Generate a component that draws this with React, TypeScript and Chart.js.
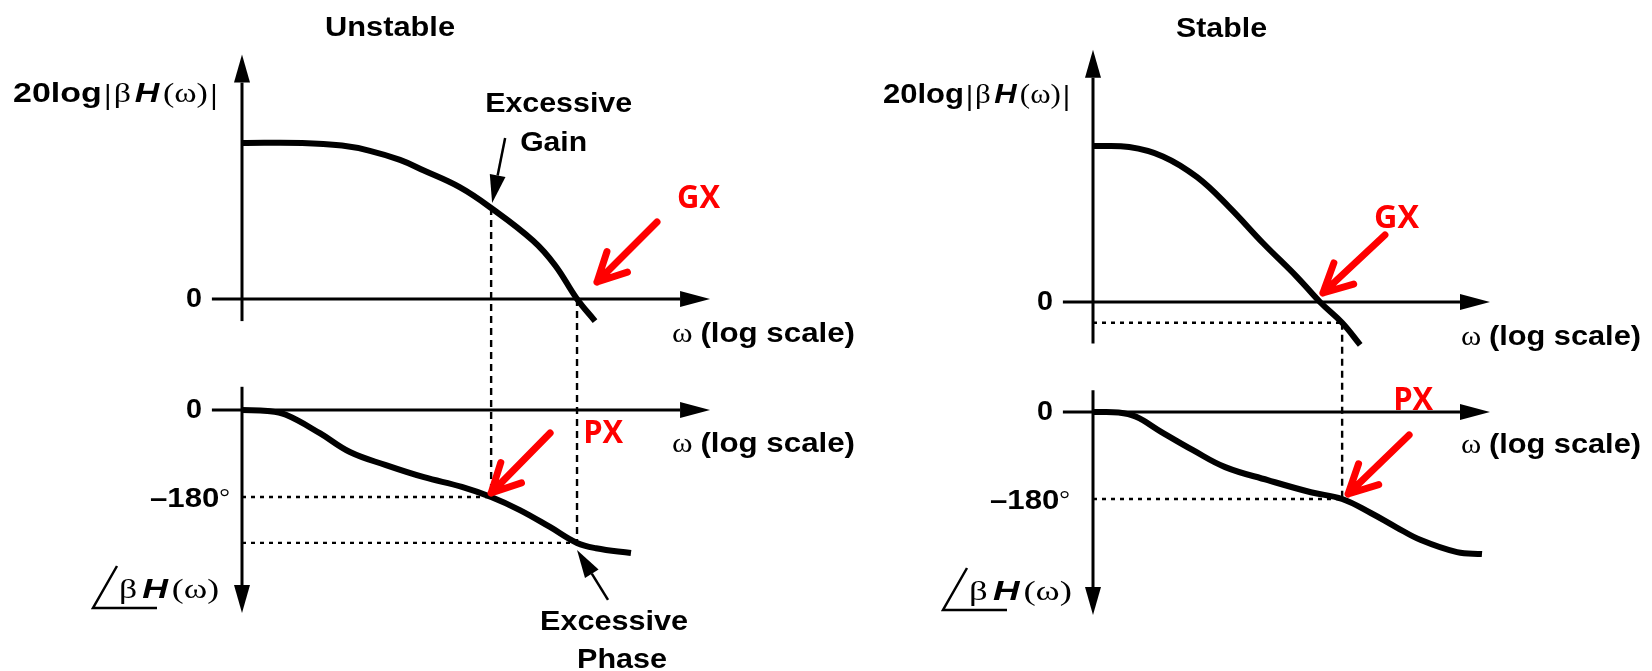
import React, { useEffect, useRef } from 'react';
import { Chart, registerables } from 'chart.js';

Chart.register(...registerables);

// ---------------- DATA (ω on a log axis, magnitude in dB, phase in degrees) ----------------
const unstableMagOmega = [1, 4, 10, 19, 38, 65, 150, 310, 810, 1350, 2240, 3390];
const unstableMagDb = [60, 60, 59, 57, 53.5, 49.5, 43, 35, 22.5, 13, 0, -8.5];
const unstablePhaseOmega = [1, 1.8, 2.75, 6, 12, 27.5, 66, 158, 310, 600, 1200, 2240, 3470, 7760];
const unstablePhaseDeg = [0, -2, -10, -48, -87, -114, -139, -159, -180, -207, -242, -275, -286, -296];

const stableMagOmega = [1, 2.3, 5, 11, 23, 50, 110, 186, 310, 470];
const stableMagDb = [60, 59.6, 56, 48, 36.5, 22.7, 9.6, 0, -8, -16.5];
const stablePhaseOmega = [1, 1.8, 2.7, 4.8, 10, 21, 56, 151, 310, 600, 1070, 1900, 4370, 7760];
const stablePhaseDeg = [0, -1, -10, -41, -79, -114, -141, -166, -180, -209, -238, -265, -290, -294];

// crossover points
const unstableGX = 2240; // gain crossover ω
const unstablePX = 310; // phase crossover ω
const unstableGainAtPX = 35; // dB ("Excessive Gain")
const unstablePhaseAtGX = -275; // deg ("Excessive Phase")
const stableGX = 186;
const stablePX = 310;
const stableGainAtPX = -8;
const phaseTick = -180;

// text
const titles = ['Unstable', 'Stable'];
const gxText = 'GX';
const pxText = 'PX';

// ---------------- STYLE / LAYOUT ----------------
const W = 1652;
const H = 671;
const SANS = "'Liberation Sans', Arial, Helvetica, sans-serif";
const SERIF = "'Liberation Serif', 'DejaVu Serif', 'Times New Roman', serif";
const fB = `bold 28px ${SANS}`;
const fBI = `italic bold 28px ${SANS}`;
const fS = `28px ${SERIF}`;
const fDeg = `24px ${SERIF}`;
const fRed = `bold 32px 'Open Sans', ${SANS}`;
const RED = '#ff0000';

type Seg = { t?: string; f?: string; gap?: number; bar?: boolean; dy?: number };

const magLabel: Seg[] = [
  { t: '20log', f: fB }, { bar: true }, { t: 'β', f: fS }, { gap: 3 }, { t: 'H', f: fBI }, { gap: 3 },
  { t: '(', f: fS }, { t: 'ω', f: fS }, { t: ')', f: fS }, { bar: true },
];
const omegaLabel: Seg[] = [{ t: 'ω', f: fS }, { gap: 7 }, { t: '(log scale)', f: fB }];
const degLabel: Seg[] = [{ t: '–180', f: fB }, { t: '°', f: fDeg, dy: -2 }];
const phaseLabel: Seg[] = [
  { t: 'β', f: fS }, { gap: 4 }, { t: 'H', f: fBI }, { gap: 3 }, { t: '(', f: fS }, { t: 'ω', f: fS }, { t: ')', f: fS },
];

function rich(ctx: CanvasRenderingContext2D, segs: Seg[], x: number, base: number, width: number, color = '#000') {
  let nat = 0;
  for (const s of segs) {
    if (s.t) { ctx.font = s.f as string; nat += ctx.measureText(s.t).width; }
    else if (s.bar) nat += 10;
    else nat += s.gap || 0;
  }
  const sx = width / nat;
  ctx.save();
  ctx.translate(x, base);
  ctx.scale(sx, 1);
  ctx.fillStyle = color;
  ctx.strokeStyle = color;
  ctx.textAlign = 'left';
  ctx.textBaseline = 'alphabetic';
  ctx.setLineDash([]);
  let cx = 0;
  for (const s of segs) {
    if (s.t) {
      ctx.font = s.f as string;
      ctx.fillText(s.t, cx, s.dy || 0);
      cx += ctx.measureText(s.t).width;
    } else if (s.bar) {
      ctx.lineWidth = 2.2 / sx;
      ctx.beginPath();
      ctx.moveTo(cx + 5, -18);
      ctx.lineTo(cx + 5, 8);
      ctx.stroke();
      cx += 10;
    } else cx += s.gap || 0;
  }
  ctx.restore();
}

function arrowLine(ctx: CanvasRenderingContext2D, x1: number, y1: number, x2: number, y2: number, lw: number, len: number, half: number) {
  const a = Math.atan2(y2 - y1, x2 - x1);
  const bx = x2 - len * Math.cos(a);
  const by = y2 - len * Math.sin(a);
  ctx.save();
  ctx.setLineDash([]);
  ctx.strokeStyle = '#000';
  ctx.fillStyle = '#000';
  ctx.lineWidth = lw;
  ctx.beginPath();
  ctx.moveTo(x1, y1);
  ctx.lineTo(bx, by);
  ctx.stroke();
  ctx.beginPath();
  ctx.moveTo(x2, y2);
  ctx.lineTo(bx - half * Math.sin(a), by + half * Math.cos(a));
  ctx.lineTo(bx + half * Math.sin(a), by - half * Math.cos(a));
  ctx.closePath();
  ctx.fill();
  ctx.restore();
}

function redArrow(ctx: CanvasRenderingContext2D, x1: number, y1: number, x2: number, y2: number) {
  const a = Math.atan2(y2 - y1, x2 - x1);
  ctx.save();
  ctx.setLineDash([]);
  ctx.strokeStyle = RED;
  ctx.lineWidth = 7;
  ctx.lineCap = 'round';
  ctx.lineJoin = 'round';
  ctx.beginPath();
  ctx.moveTo(x1, y1);
  ctx.lineTo(x2, y2);
  for (const s of [-1, 1]) {
    const b = a + Math.PI + s * 0.47;
    ctx.moveTo(x2, y2);
    ctx.lineTo(x2 + 32 * Math.cos(b), y2 + 32 * Math.sin(b));
  }
  ctx.stroke();
  ctx.restore();
}

function guide(ctx: CanvasRenderingContext2D, x1: number, y1: number, x2: number, y2: number, dash: number[]) {
  ctx.save();
  ctx.strokeStyle = '#000';
  ctx.lineWidth = 2.4;
  ctx.setLineDash(dash);
  ctx.beginPath();
  ctx.moveTo(x1, y1);
  ctx.lineTo(x2, y2);
  ctx.stroke();
  ctx.restore();
}

const VDASH = [7, 5];
const HDOT = [4, 5];

function interp(xs: number[], ys: number[], x: number) {
  for (let i = 0; i < xs.length - 1; i++) {
    if (x >= xs[i] && x <= xs[i + 1]) {
      const t = (Math.log10(x) - Math.log10(xs[i])) / (Math.log10(xs[i + 1]) - Math.log10(xs[i]));
      return ys[i] + t * (ys[i + 1] - ys[i]);
    }
  }
  return ys[ys.length - 1];
}

const panels = [
  {
    x: 'xU', m: 'yMagU', p: 'yPhU', magAxis: [-8.5, 94], phAxis: [48, -420], wStart: 0.5, wEnd: 47900,
    title: [325, 36, 130], magLbl: [13, 102, 207], omegaW: 183, omegaDx: 430, omegaMagDy: 43, omegaPhDy: 42,
    zeroDx: -48, degRight: -12, degW: 80, angle: [93, 598, 608, 126],
  },
  {
    x: 'xS', m: 'yMagS', p: 'yPhS', magAxis: [-16, 97], phAxis: [45, -420], wStart: 0.5, wEnd: 9330,
    title: [1176, 37, 91], magLbl: [883, 103, 189], omegaW: 180, omegaDx: 368, omegaMagDy: 43, omegaPhDy: 41,
    zeroDx: -48, degRight: -23, degW: 80, angle: [943, 600, 610, 129],
  },
];

const diagramPlugin = {
  id: 'bodeDiagram',
  beforeDatasetsDraw(chart: any) {
    const ctx: CanvasRenderingContext2D = chart.ctx;
    panels.forEach((pn) => {
      const xs = chart.scales[pn.x], m = chart.scales[pn.m], p = chart.scales[pn.p];
      const x0 = xs.getPixelForValue(1);
      const xa = xs.getPixelForValue(pn.wStart);
      const xe = xs.getPixelForValue(pn.wEnd);
      arrowLine(ctx, x0, m.getPixelForValue(pn.magAxis[0]), x0, m.getPixelForValue(pn.magAxis[1]), 3, 28, 8);
      arrowLine(ctx, xa, m.getPixelForValue(0), xe, m.getPixelForValue(0), 3, 30, 8);
      arrowLine(ctx, x0, p.getPixelForValue(pn.phAxis[0]), x0, p.getPixelForValue(pn.phAxis[1]), 3, 28, 8);
      arrowLine(ctx, xa, p.getPixelForValue(0), xe, p.getPixelForValue(0), 3, 30, 8);
    });
    // guides: unstable
    {
      const xs = chart.scales.xU, m = chart.scales.yMagU, p = chart.scales.yPhU;
      const x0 = xs.getPixelForValue(1);
      const xp = xs.getPixelForValue(unstablePX);
      const xg = xs.getPixelForValue(unstableGX);
      guide(ctx, xp, m.getPixelForValue(unstableGainAtPX), xp, p.getPixelForValue(phaseTick), VDASH);
      guide(ctx, xg, m.getPixelForValue(0), xg, p.getPixelForValue(unstablePhaseAtGX), VDASH);
      guide(ctx, x0, p.getPixelForValue(phaseTick), xp, p.getPixelForValue(phaseTick), HDOT);
      guide(ctx, x0, p.getPixelForValue(unstablePhaseAtGX), xg, p.getPixelForValue(unstablePhaseAtGX), HDOT);
    }
    // guides: stable
    {
      const xs = chart.scales.xS, m = chart.scales.yMagS, p = chart.scales.yPhS;
      const x0 = xs.getPixelForValue(1);
      const xp = xs.getPixelForValue(stablePX);
      guide(ctx, x0, m.getPixelForValue(stableGainAtPX), xp, m.getPixelForValue(stableGainAtPX), HDOT);
      guide(ctx, xp, m.getPixelForValue(stableGainAtPX), xp, p.getPixelForValue(phaseTick), VDASH);
      guide(ctx, x0, p.getPixelForValue(phaseTick), xp, p.getPixelForValue(phaseTick), HDOT);
    }
  },
  afterDatasetsDraw(chart: any) {
    const ctx: CanvasRenderingContext2D = chart.ctx;
    panels.forEach((pn, i) => {
      const xs = chart.scales[pn.x], m = chart.scales[pn.m], p = chart.scales[pn.p];
      const x0 = xs.getPixelForValue(1);
      const ym0 = m.getPixelForValue(0);
      const yp0 = p.getPixelForValue(0);
      const yp180 = p.getPixelForValue(phaseTick);
      rich(ctx, [{ t: titles[i], f: fB }], pn.title[0], pn.title[1], pn.title[2]);
      rich(ctx, magLabel, pn.magLbl[0], pn.magLbl[1], pn.magLbl[2]);
      rich(ctx, omegaLabel, x0 + pn.omegaDx, ym0 + pn.omegaMagDy, pn.omegaW);
      rich(ctx, omegaLabel, x0 + pn.omegaDx, yp0 + pn.omegaPhDy, pn.omegaW);
      rich(ctx, [{ t: '0', f: fB }], x0 + pn.zeroDx - 8, ym0 + 8, 16);
      rich(ctx, [{ t: '0', f: fB }], x0 + pn.zeroDx - 8, yp0 + 8, 16);
      rich(ctx, degLabel, x0 + pn.degRight - pn.degW, yp180 + 10, pn.degW);
      // angle symbol label
      const [ax, ab, au, aw] = pn.angle;
      ctx.save();
      ctx.strokeStyle = '#000';
      ctx.lineWidth = 2.5;
      ctx.setLineDash([]);
      ctx.beginPath();
      ctx.moveTo(ax + 24, au - 42);
      ctx.lineTo(ax, au);
      ctx.lineTo(ax + 64, au);
      ctx.stroke();
      ctx.restore();
      rich(ctx, phaseLabel, ax + 26, ab, aw - 26);
    });

    // Unstable annotations
    {
      const xs = chart.scales.xU, m = chart.scales.yMagU, p = chart.scales.yPhU;
      // Excessive gain
      const gx = xs.getPixelForValue(unstablePX), gy = m.getPixelForValue(unstableGainAtPX);
      arrowLine(ctx, gx + 14, gy - 70, gx + 1, gy - 5, 2.5, 28, 8);
      rich(ctx, [{ t: 'Excessive', f: fB }], gx - 6, gy - 96, 147);
      rich(ctx, [{ t: 'Gain', f: fB }], gx + 29, gy - 57, 67);
      // Excessive phase
      const ex = xs.getPixelForValue(unstableGX), ey = p.getPixelForValue(unstablePhaseAtGX);
      arrowLine(ctx, ex + 31, ey + 57, ex, ey + 7, 2.5, 28, 8);
      rich(ctx, [{ t: 'Excessive', f: fB }], ex - 37, ey + 87, 148);
      rich(ctx, [{ t: 'Phase', f: fB }], ex, ey + 125, 90);
      // GX
      const cx = xs.getPixelForValue(unstableGX), cy = m.getPixelForValue(0);
      redArrow(ctx, cx + 80, cy - 77, cx + 20, cy - 17);
      rich(ctx, [{ t: gxText, f: fRed }], cx + 100, cy - 91, 43, RED);
      // PX
      const px = xs.getPixelForValue(unstablePX), py = p.getPixelForValue(phaseTick);
      redArrow(ctx, px + 59, py - 64, px, py - 4);
      rich(ctx, [{ t: pxText, f: fRed }], px + 92, py - 54, 40, RED);
    }
    // Stable annotations
    {
      const xs = chart.scales.xS, m = chart.scales.yMagS, p = chart.scales.yPhS;
      const cx = xs.getPixelForValue(stableGX), cy = m.getPixelForValue(interp(stableMagOmega, stableMagDb, stableGX));
      redArrow(ctx, cx + 65, cy - 67, cx + 3, cy - 9);
      rich(ctx, [{ t: gxText, f: fRed }], cx + 54, cy - 74, 45, RED);
      const px = xs.getPixelForValue(stablePX), py = p.getPixelForValue(phaseTick);
      redArrow(ctx, px + 67, py - 64, px + 6, py - 5);
      rich(ctx, [{ t: pxText, f: fRed }], px + 51, py - 89, 40, RED);
    }
  },
};

function logX(originPx: number, pxPerDecade: number) {
  return {
    type: 'logarithmic', axis: 'x', position: 'bottom', display: false, bounds: 'data',
    min: Math.pow(10, -originPx / pxPerDecade),
    max: Math.pow(10, (W - originPx) / pxPerDecade),
    grid: { display: false }, ticks: { display: false },
  };
}
function linY(zeroPx: number, pxPerUnit: number) {
  return {
    type: 'linear', axis: 'y', position: 'left', display: false, bounds: 'data',
    min: -(H - zeroPx) / pxPerUnit,
    max: zeroPx / pxPerUnit,
    grid: { display: false }, ticks: { display: false },
  };
}

const curve = (xs: number[], ys: number[], xAxisID: string, yAxisID: string) => ({
  data: xs.map((x, i) => ({ x, y: ys[i] })),
  xAxisID,
  yAxisID,
  borderColor: '#000',
  backgroundColor: '#000',
  borderWidth: 6,
  pointRadius: 0,
  pointHoverRadius: 0,
  tension: 0.4,
  fill: false,
  borderJoinStyle: 'round',
});

export default function App() {
  const ref = useRef<HTMLCanvasElement>(null);
  useEffect(() => {
    document.body.style.margin = '0';
    const chart = new Chart(ref.current as HTMLCanvasElement, {
      type: 'line',
      data: {
        datasets: [
          curve(unstableMagOmega, unstableMagDb, 'xU', 'yMagU'),
          curve(unstablePhaseOmega, unstablePhaseDeg, 'xU', 'yPhU'),
          curve(stableMagOmega, stableMagDb, 'xS', 'yMagS'),
          curve(stablePhaseOmega, stablePhaseDeg, 'xS', 'yPhS'),
        ] as any,
      },
      options: {
        responsive: false,
        maintainAspectRatio: false,
        animation: false,
        devicePixelRatio: 1,
        events: [],
        layout: { padding: 0 },
        plugins: { legend: { display: false }, tooltip: { enabled: false }, title: { display: false } },
        scales: {
          xU: logX(242, 100),
          xS: logX(1093, 100),
          yMagU: linY(299, 2.6),
          yPhU: linY(410, 87 / 180),
          yMagS: linY(302, 2.6),
          yPhS: linY(412, 87 / 180),
        } as any,
      },
      plugins: [diagramPlugin as any],
    });
    return () => chart.destroy();
  }, []);
  return (
    <div style={{ position: 'absolute', left: 0, top: 0, width: W, height: H, background: '#fff' }}>
      <canvas ref={ref} width={W} height={H} style={{ width: W, height: H, display: 'block' }} />
    </div>
  );
}
